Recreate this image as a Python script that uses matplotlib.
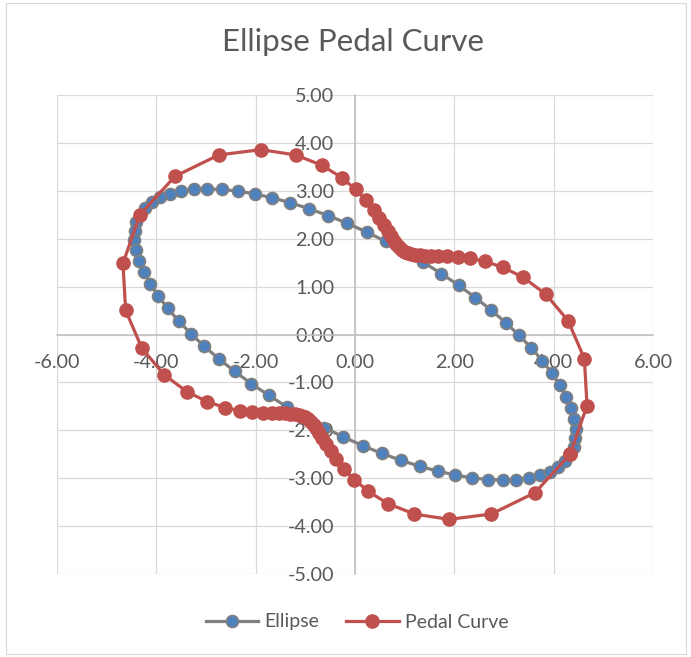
import matplotlib
matplotlib.use("Agg")
import matplotlib.pyplot as plt
from matplotlib.patches import Rectangle

# ---- data ----
ellipse_x = [4.330, 4.401, 4.438, 4.441, 4.411, 4.347, 4.250, 4.120, 3.960, 3.769,
             3.549, 3.303, 3.031, 2.736, 2.421, 2.087, 1.737, 1.374, 1.000, 0.619,
             0.233, -0.155, -0.541, -0.924, -1.299, -1.664, -2.017, -2.355, -2.674, -2.973,
             -3.250, -3.502, -3.727, -3.924, -4.091, -4.226, -4.330,
             -4.401, -4.438, -4.441, -4.411, -4.347, -4.250, -4.120, -3.960, -3.769, -3.549,
             -3.303, -3.031, -2.736, -2.421, -2.087, -1.737, -1.374, -1.000, -0.619, -0.233,
             0.155, 0.541, 0.924, 1.299, 1.664, 2.017, 2.355, 2.674, 2.973, 3.250,
             3.502, 3.727, 3.924, 4.091, 4.226, 4.330]
ellipse_y = [-2.500, -2.340, -2.161, -1.967, -1.757, -1.534, -1.299, -1.054, -0.802, -0.543,
             -0.280, -0.015, 0.250, 0.513, 0.772, 1.026, 1.272, 1.508, 1.732, 1.943,
             2.140, 2.320, 2.483, 2.626, 2.750, 2.853, 2.934, 2.993, 3.028, 3.041,
             3.031, 2.998, 2.942, 2.863, 2.763, 2.642, 2.500,
             2.340, 2.161, 1.967, 1.757, 1.534, 1.299, 1.054, 0.802, 0.543, 0.280,
             0.015, -0.250, -0.513, -0.772, -1.026, -1.272, -1.508, -1.732, -1.943, -2.140,
             -2.320, -2.483, -2.626, -2.750, -2.853, -2.934, -2.993, -3.028, -3.041, -3.031,
             -2.998, -2.942, -2.863, -2.763, -2.642, -2.500]

pedal_x = [4.330, 4.672, 4.618, 4.291, 3.845, 3.388, 2.973, 2.615, 2.314, 2.064,
           1.855, 1.681, 1.535, 1.411, 1.305, 1.214, 1.134, 1.063, 1.000, 0.942,
           0.887, 0.834, 0.779, 0.722, 0.658, 0.583, 0.491, 0.375, 0.221, 0.014,
           -0.270, -0.662, -1.197, -1.897, -2.744, -3.624, -4.330,
           -4.672, -4.618, -4.291, -3.845, -3.388, -2.973, -2.615, -2.314, -2.064, -1.855,
           -1.681, -1.535, -1.411, -1.305, -1.214, -1.134, -1.063, -1.000, -0.942, -0.887,
           -0.834, -0.779, -0.722, -0.658, -0.583, -0.491, -0.375, -0.221, -0.014, 0.270,
           0.662, 1.197, 1.897, 2.744, 3.624, 4.330]
pedal_y = [-2.500, -1.487, -0.503, 0.286, 0.838, 1.192, 1.404, 1.526, 1.591, 1.624,
           1.638, 1.644, 1.646, 1.648, 1.653, 1.663, 1.679, 1.701, 1.732, 1.772,
           1.821, 1.882, 1.957, 2.046, 2.152, 2.278, 2.426, 2.599, 2.800, 3.028,
           3.277, 3.530, 3.749, 3.859, 3.748, 3.303, 2.500,
           1.487, 0.503, -0.286, -0.838, -1.192, -1.404, -1.526, -1.591, -1.624, -1.638,
           -1.644, -1.646, -1.648, -1.653, -1.663, -1.679, -1.701, -1.732, -1.772, -1.821,
           -1.882, -1.957, -2.046, -2.152, -2.278, -2.426, -2.599, -2.800, -3.028, -3.277,
           -3.530, -3.749, -3.859, -3.748, -3.303, -2.500]

x_ticks = [-6, -4, -2, 0, 2, 4, 6]
y_ticks = [-5, -4, -3, -2, -1, 0, 1, 2, 3, 4, 5]
title = "Ellipse Pedal Curve"
series_names = ["Ellipse", "Pedal Curve"]

# ---- figure ----
W, H, DPI = 691, 657, 100
plt.rcParams['font.family'] = ['Lato', 'DejaVu Sans']
txt = '#595959'
fig = plt.figure(figsize=(W / DPI, H / DPI), dpi=DPI)
fig.patch.set_facecolor('white')

# chart border
fig.patches.append(Rectangle((6 / W, 3 / H), 680 / W, 651 / H, transform=fig.transFigure,
                             fill=False, edgecolor='#d9d9d9', linewidth=0.8))

left, right, top, bottom = 57, 653, 95, 574
ax = fig.add_axes([left / W, 1 - bottom / H, (right - left) / W, (bottom - top) / H])
ax.set_xlim(-6, 6)
ax.set_ylim(-5, 5)

ax.set_xticks(x_ticks)
ax.set_yticks(y_ticks)
ax.set_xticklabels([f"{v:.2f}" for v in x_ticks])
ax.set_yticklabels([f"{v:.2f}" for v in y_ticks])
ax.grid(True, color='#d9d9d9', linewidth=0.9, zorder=0)
ax.set_axisbelow(True)

for s in ['top', 'right']:
    ax.spines[s].set_visible(False)
ax.spines['left'].set_position(('data', 0))
ax.spines['bottom'].set_position(('data', 0))
for s in ['left', 'bottom']:
    ax.spines[s].set_color('#bfbfbf')
    ax.spines[s].set_linewidth(1.1)
    ax.spines[s].set_zorder(1)
ax.tick_params(axis='both', length=0, labelsize=14.2, labelcolor=txt)
ax.tick_params(axis='y', pad=15)
ax.tick_params(axis='x', pad=14)

l1, = ax.plot(ellipse_x, ellipse_y, color='#7f7f7f', linewidth=2.3,
              marker='o', markersize=8.6, markerfacecolor='#4f81bd',
              markeredgecolor='#7f7f7f', markeredgewidth=1.2, zorder=3,
              label=series_names[0])
l2, = ax.plot(pedal_x, pedal_y, color='#c0504d', linewidth=2.3,
              marker='o', markersize=9.5, markerfacecolor='#c0504d',
              markeredgecolor='#c0504d', markeredgewidth=1.0, zorder=4,
              label=series_names[1])
for l in (l1, l2):
    l.set_clip_on(False)

fig.text(353 / W, 1 - 51 / H, title, ha='center', va='baseline',
         fontsize=22.5, color=txt)

leg = fig.legend(handles=[l1, l2], loc='center', bbox_to_anchor=(357 / W, 1 - 622 / H),
                 ncol=2, frameon=False, fontsize=14, handlelength=2.7,
                 handletextpad=0.3, columnspacing=1.4, labelcolor=txt)

fig.savefig('out.png', dpi=DPI)
